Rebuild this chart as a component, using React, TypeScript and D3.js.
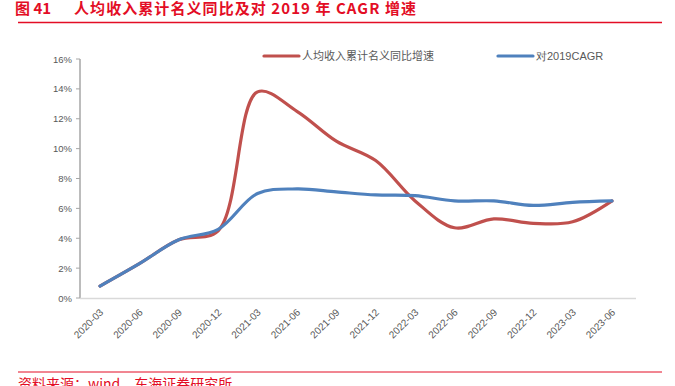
import React from "react";
import * as d3 from "d3";

const categories = ["2020-03","2020-06","2020-09","2020-12","2021-03","2021-06","2021-09","2021-12","2022-03","2022-06","2022-09","2022-12","2023-03","2023-06"];
const yoyGrowth = [0.8, 2.3, 3.9, 4.5, 13.8, 12.5, 10.5, 9.2, 6.5, 4.7, 5.3, 5.0, 5.1, 6.5];
const cagr2019 = [0.8, 2.3, 3.9, 4.6, 7.0, 7.3, 7.1, 6.9, 6.85, 6.5, 6.5, 6.2, 6.4, 6.5];
const yTicks = [0, 2, 4, 6, 8, 10, 12, 14, 16];
const seriesNames = ["人均收入累计名义同比增速", "对2019CAGR"];
const titleNo = "图 41";
const title = "人均收入累计名义同比及对 2019 年 CAGR 增速";
const source = "资料来源：wind，东海证券研究所";

const RED = "#C0504D";
const BLUE = "#4F81BD";
const BRAND = "#E30D25";

export default function App() {
  const x = d3.scalePoint<string>().domain(categories).range([100, 612]);
  const y = d3.scaleLinear().domain([0, 16]).range([298, 59]);
  const line = d3
    .line<number>()
    .x((_, i) => x(categories[i]) as number)
    .y((d) => y(d))
    .curve(d3.curveCatmullRom.alpha(0.5));

  const font = "'Noto Sans CJK SC', 'Noto Sans', sans-serif";
  const latin = "'Liberation Sans', Arial, sans-serif";

  return (
    <svg width={675} height={386} style={{ position: "absolute", left: 0, top: 0, background: "#fff" }}>
      <text x={15} y={14} fill={BRAND} fontSize={15} fontWeight="bold" fontFamily={font}>{titleNo}</text>
      <text x={74} y={14} fill={BRAND} fontSize={15} fontWeight="bold" fontFamily={font} textLength={342} lengthAdjust="spacing">{title}</text>
      <line x1={18} x2={662} y1={22.5} y2={22.5} stroke={BRAND} strokeWidth={1.3} />

      {/* axes */}
      <line x1={80} x2={80} y1={59} y2={298} stroke="#a6a6a6" strokeWidth={1.5} />
      <line x1={80} x2={636} y1={298.5} y2={298.5} stroke="#d9d9d9" strokeWidth={1.5} />
      {yTicks.map((t) => (
        <g key={t}>
          <line x1={76} x2={80} y1={y(t)} y2={y(t)} stroke="#a6a6a6" strokeWidth={1} />
          <text x={72} y={y(t) + 3.5} textAnchor="end" fontSize={9.5} fill="#595959" fontFamily={latin}>{t}%</text>
        </g>
      ))}
      {categories.map((c) => (
        <text
          key={c}
          transform={`translate(${(x(c) as number) + 4},${313}) rotate(-45)`}
          textAnchor="end"
          fontSize={10}
          fill="#595959"
          fontFamily={latin}
        >{c}</text>
      ))}

      <path d={line(yoyGrowth) || ""} fill="none" stroke={RED} strokeWidth={3.2} strokeLinecap="round" />
      <path d={line(cagr2019) || ""} fill="none" stroke={BLUE} strokeWidth={3.2} strokeLinecap="round" />

      {/* legend */}
      <line x1={264} x2={299} y1={56} y2={56} stroke={RED} strokeWidth={3.2} strokeLinecap="round" />
      <text x={302} y={60} fontSize={11} fill="#595959" fontFamily={font}>{seriesNames[0]}</text>
      <line x1={498} x2={533} y1={56} y2={56} stroke={BLUE} strokeWidth={3.2} strokeLinecap="round" />
      <text x={536} y={60} fontSize={11} fill="#595959" fontFamily={latin}>{seriesNames[1]}</text>

      <line x1={18} x2={662} y1={372} y2={372} stroke={BRAND} strokeWidth={1} />
      <text x={18} y={389} fill={BRAND} fontSize={14} fontFamily={font}>{source}</text>
    </svg>
  );
}
